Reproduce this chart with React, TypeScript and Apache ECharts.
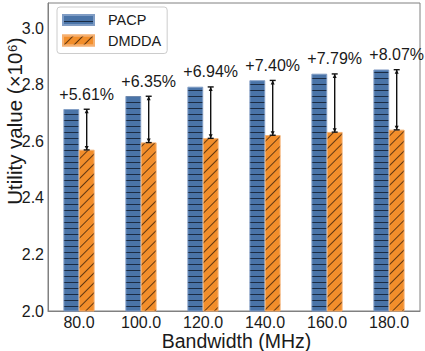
import React, { useEffect, useRef } from "react";
import * as echarts from "echarts";

const categories = ["80.0", "100.0", "120.0", "140.0", "160.0", "180.0"];
const pacp = [2.714, 2.760, 2.793, 2.816, 2.839, 2.854];
const dmdda = [2.570, 2.596, 2.611, 2.622, 2.633, 2.641];
const gains = ["+5.61%", "+6.35%", "+6.94%", "+7.40%", "+7.79%", "+8.07%"];
const yTicks = [2.0, 2.2, 2.4, 2.6, 2.8, 3.0];

const FONT = "'Liberation Sans', Arial, Helvetica, sans-serif";
const BAR_W = 15.4;

export default function App() {
  const ref = useRef<HTMLDivElement>(null);
  useEffect(() => {
    const chart = echarts.init(ref.current!, undefined, { renderer: "svg" });
    const errData = categories.map((_, i) => [i, dmdda[i], pacp[i], gains[i]]);
    chart.setOption({
      animation: false,
      backgroundColor: "#fff",
      grid: {
        left: 48,
        right: 5,
        top: 3,
        bottom: 40,
        containLabel: false,
        outerBoundsMode: "none",
        show: true,
        borderColor: "#808080",
        borderWidth: 1,
        backgroundColor: "transparent",
      },
      legend: {
        orient: "vertical",
        left: 57,
        top: 7,
        icon: "rect",
        itemWidth: 31,
        itemHeight: 10,
        itemGap: 4.5,
        padding: [5, 6, 5, 5],
        borderColor: "#cccccc",
        borderWidth: 1,
        borderRadius: 3,
        backgroundColor: "rgba(255,255,255,0.85)",
        textStyle: {
          fontFamily: FONT,
          fontSize: 14.5,
          color: "#1a1a1a",
          lineHeight: 16,
          padding: [0, 0, 0, 9],
        },
        data: ["PACP", "DMDDA"],
      },
      xAxis: {
        type: "category",
        data: categories,
        boundaryGap: true,
        axisLine: { lineStyle: { color: "#808080", width: 1 } },
        axisTick: { show: false },
        axisLabel: {
          fontFamily: FONT,
          fontSize: 16,
          lineHeight: 16,
          color: "#1a1a1a",
          margin: 3,
        },
      },
      yAxis: {
        type: "value",
        min: 2.0,
        max: 3.09,
        interval: 0.2,
        splitLine: { show: false },
        axisLine: { show: true, lineStyle: { color: "#808080", width: 1 } },
        axisTick: { show: false },
        axisLabel: {
          fontFamily: FONT,
          fontSize: 16,
          color: "#1a1a1a",
          margin: 4,
          formatter: (v: number) =>
            yTicks.some((t) => Math.abs(t - v) < 1e-6) ? v.toFixed(1) : "",
        },
      },
      graphic: [
        {
          type: "text",
          x: 14,
          y: 121,
          rotation: Math.PI / 2,
          style: {
            text: "Utility value (×10⁶)",
            fontFamily: FONT,
            fontSize: 20.5,
            fill: "#1a1a1a",
            align: "center",
            verticalAlign: "middle",
          },
        },
        {
          type: "text",
          x: 236.5,
          y: 341,
          style: {
            text: "Bandwidth (MHz)",
            fontFamily: FONT,
            fontSize: 19.5,
            lineHeight: 18,
            fill: "#1a1a1a",
            align: "center",
            verticalAlign: "middle",
          },
        },
      ],
      series: [
        {
          name: "PACP",
          type: "bar",
          data: pacp,
          barWidth: BAR_W,
          barGap: "0%",
          itemStyle: {
            color: "#4A74A8",
            borderColor: "#7f9cc4",
            borderWidth: 0.6,
            decal: {
              symbol: "rect",
              symbolSize: 1,
              color: "rgba(10,20,35,0.75)",
              dashArrayX: [1, 0],
              dashArrayY: [1, 5],
              rotation: 0,
            },
          },
        },
        {
          name: "DMDDA",
          type: "bar",
          data: dmdda,
          barWidth: BAR_W,
          itemStyle: {
            color: "#F28E2B",
            borderColor: "#f5b070",
            borderWidth: 0.6,
            decal: {
              symbol: "rect",
              symbolSize: 1,
              color: "rgba(40,20,5,0.7)",
              dashArrayX: [1, 0],
              dashArrayY: [1, 6],
              rotation: -Math.PI / 4,
            },
          },
        },
        {
          type: "custom",
          name: "gain",
          data: errData,
          encode: { x: 0, y: [1, 2] },
          z: 10,
          renderItem: (params: any, api: any) => {
            const i = api.value(0);
            const lo = api.coord([i, api.value(1)]);
            const hi = api.coord([i, api.value(2)]);
            const x = lo[0] + BAR_W / 2;
            const yl = lo[1];
            const yh = hi[1];
            const stroke = { stroke: "#111", lineWidth: 1.4 };
            return {
              type: "group",
              children: [
                { type: "line", shape: { x1: x, y1: yl, x2: x, y2: yh }, style: stroke },
                { type: "line", shape: { x1: x - 3, y1: yh, x2: x + 3, y2: yh }, style: stroke },
                { type: "line", shape: { x1: x - 3, y1: yl, x2: x + 3, y2: yl }, style: stroke },
                {
                  type: "polygon",
                  shape: { points: [[x, yh], [x - 2, yh + 4], [x + 2, yh + 4]] },
                  style: { fill: "#111" },
                },
                {
                  type: "polygon",
                  shape: { points: [[x, yl], [x - 2, yl - 4], [x + 2, yl - 4]] },
                  style: { fill: "#111" },
                },
                {
                  type: "text",
                  x: x,
                  y: yh - 7,
                  style: {
                    text: api.value(3),
                    fontFamily: FONT,
                    fontSize: 16,
                    fill: "#1a1a1a",
                    align: "center",
                    verticalAlign: "bottom",
                  },
                },
              ],
            };
          },
        },
      ],
    });
    return () => chart.dispose();
  }, []);
  return <div ref={ref} style={{ width: 425, height: 351, position: "absolute", left: 0, top: 0 }} />;
}
